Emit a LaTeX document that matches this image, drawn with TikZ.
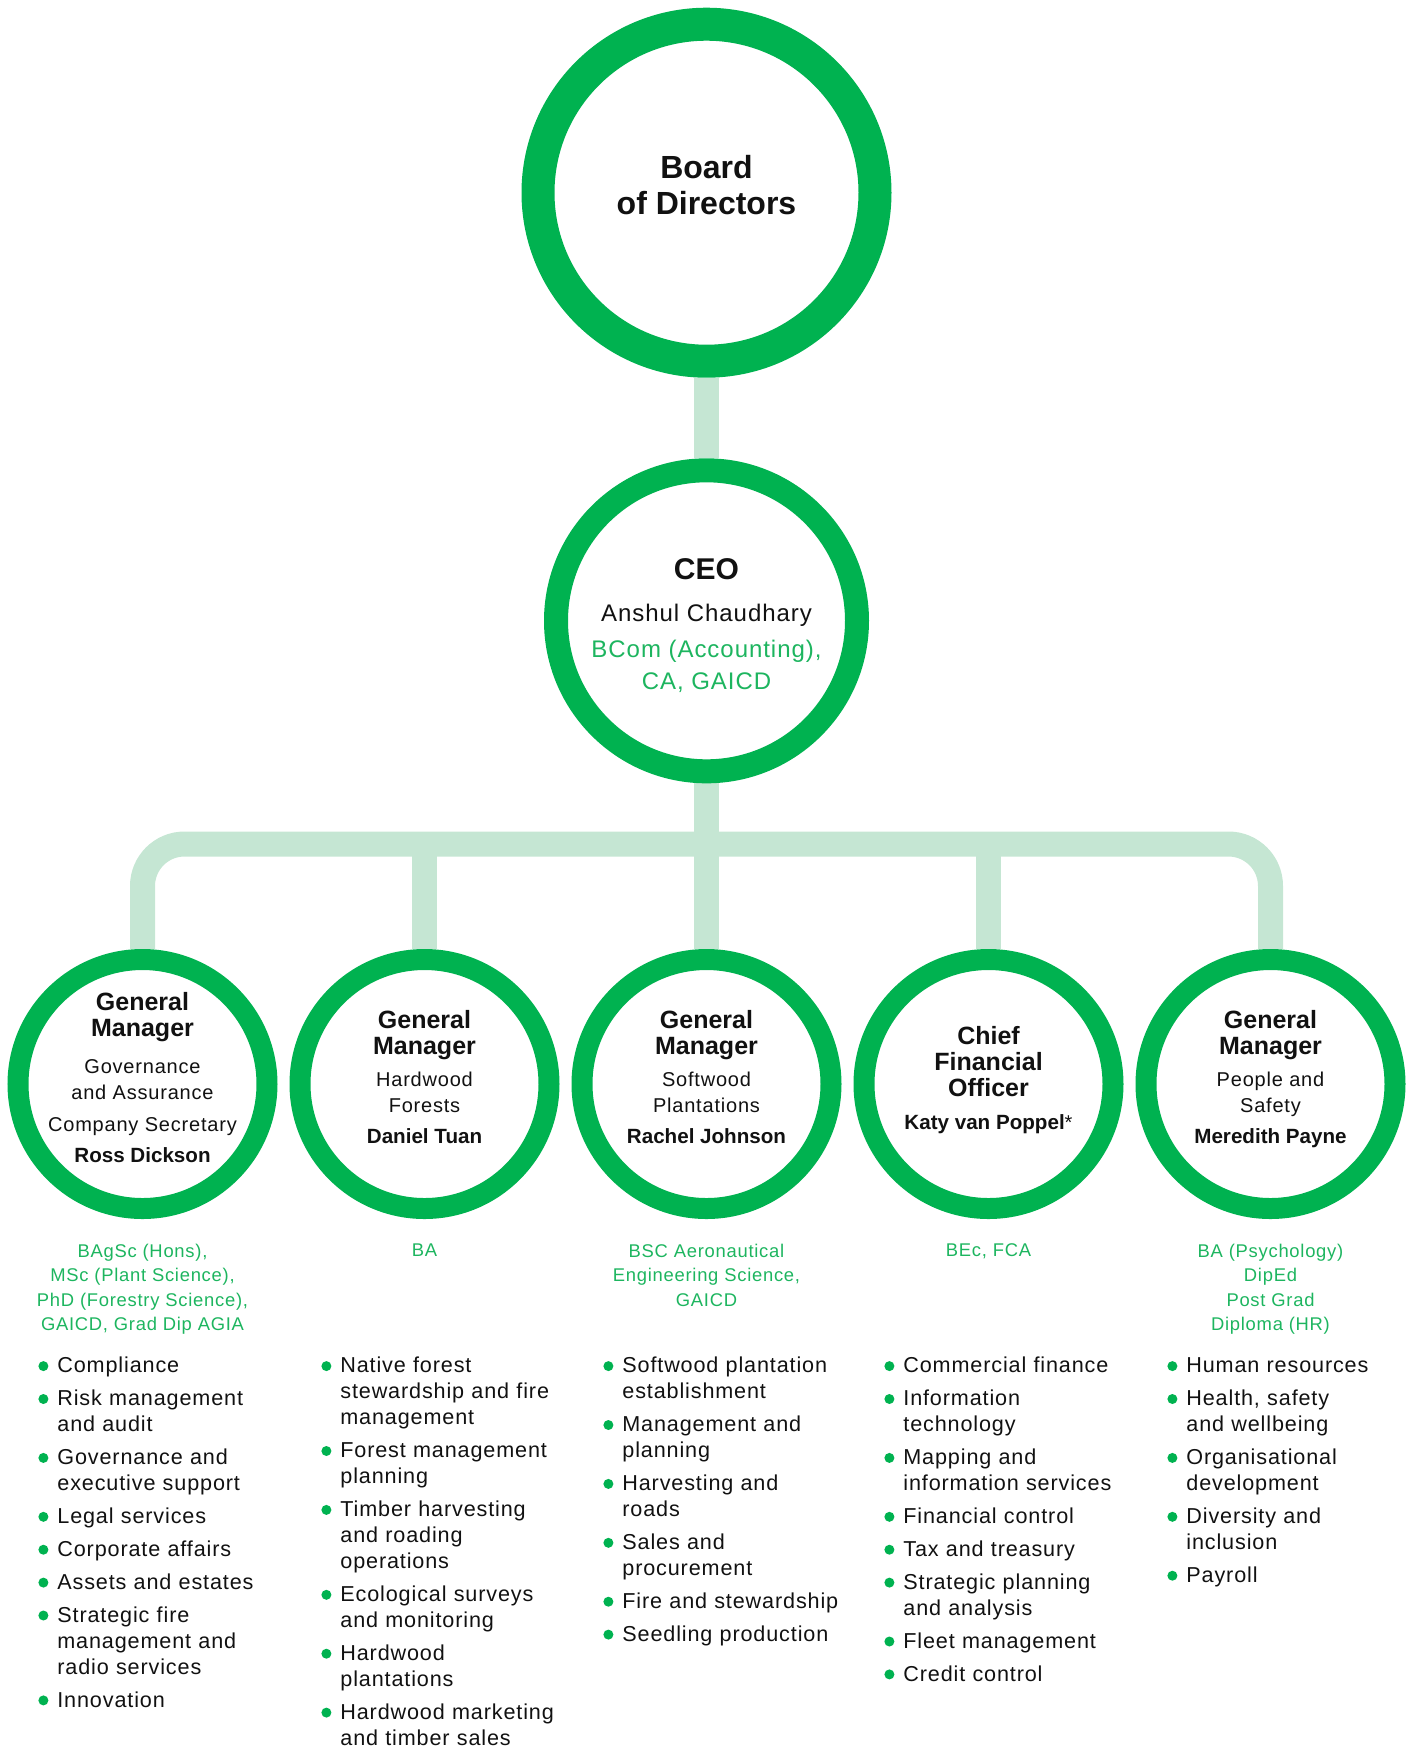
\documentclass[tikz,border=0pt]{standalone}
\usepackage{fontspec}
\setmainfont{Liberation Sans}[LetterSpace=4,BoldFeatures={LetterSpace=0}]
\usetikzlibrary{backgrounds}

\definecolor{ringgreen}{RGB}{0,178,80}
\definecolor{linkgreen}{RGB}{197,230,211}
\definecolor{qualgreen}{RGB}{29,181,95}
\definecolor{ink}{RGB}{17,17,17}

% title lines, names and list items
\newcommand\ttl[1]{{\fontsize{12.5pt}{13pt}\selectfont\bfseries #1}}
\newcommand\nm[1]{{\fontsize{10.3pt}{13pt}\selectfont\bfseries #1}}
\newcommand\itm{\par\leftskip=7pt\parskip=3.45pt\noindent\llap{\tikz[baseline=-3.4pt]\fill[ringgreen] (0,0) circle[radius=2.5pt];\hspace{4.5pt}}}

\tikzset{
  ring/.style={circle, draw=ringgreen, fill=white, inner sep=0pt},
  unit/.style={ring, minimum size=124.5pt, line width=10.5pt},
  link/.style={draw=linkgreen, line width=12.5pt},
  role/.style={align=center, text=ink, inner sep=0pt, font=\fontsize{10pt}{13pt}\selectfont},
  qual/.style={align=center, text=qualgreen, anchor=north, inner sep=0pt, font=\fontsize{9.2pt}{12.2pt}\selectfont},
  duties/.style={anchor=north west, text width=130pt, align=left, inner sep=0pt, text=ink, font=\fontsize{10.8pt}{13pt}\selectfont},
}

\begin{document}
\begin{tikzpicture}[x=0.5pt, y=-0.5pt]
\useasboundingbox (0,0) rectangle (1412,1753);

% board and CEO
\node[ring, minimum size=168.5pt, line width=16.5pt] (board) at (706.5,192.7) {};
\node[ring, minimum size=150.5pt, line width=12pt] (ceo) at (706.5,620.8) {};
\node[role, font=\fontsize{16pt}{18.35pt}\selectfont\bfseries, yshift=3.85pt] (board-txt) at (board) {Board\\of Directors};
\node[role, font=\fontsize{12pt}{16pt}\selectfont, yshift=-2.5pt] (ceo-txt) at (ceo) {{\fontsize{15pt}{16pt}\selectfont\bfseries CEO}\\[4.85pt]Anshul Chaudhary\\[2.15pt]\textcolor{qualgreen}{BCom (Accounting),}\\\textcolor{qualgreen}{CA, GAICD}};

% business units
\node[unit] (gov) at (142.5,1084) {};
\node[unit] (hard) at (424.5,1084) {};
\node[unit] (soft) at (706.5,1084) {};
\node[unit] (cfo) at (988.5,1084) {};
\node[unit] (people) at (1270.5,1084) {};

\node[role, yshift=3.1pt] (gov-txt) at (gov) {\ttl{General}\\\ttl{Manager}\\[5.2pt]Governance\\and Assurance\\[3.2pt]Company Secretary\\[2.5pt]\nm{Ross Dickson}};
\node[role, yshift=3.5pt] (hard-txt) at (hard) {\ttl{General}\\\ttl{Manager}\\[2.85pt]Hardwood\\Forests\\[2.65pt]\nm{Daniel Tuan}};
\node[role, yshift=3.5pt] (soft-txt) at (soft) {\ttl{General}\\\ttl{Manager}\\[2.85pt]Softwood\\Plantations\\[2.65pt]\nm{Rachel Johnson}};
\node[role, yshift=2pt] (cfo-txt) at (cfo) {\ttl{Chief}\\\ttl{Financial}\\\ttl{Officer}\\[3.65pt]\nm{Katy van Poppel}*};
\node[role, yshift=2.45pt] (people-txt) at (people) {\ttl{General}\\\ttl{Manager}\\[2.85pt]People and\\Safety\\[2.65pt]\nm{Meredith Payne}};

% reporting lines
\begin{scope}[on background layer]
\coordinate (bar) at (706.5,844);
\draw[link] (board) -- (ceo);
\draw[link] (ceo) -- (soft);
\draw[link, rounded corners=21pt] (gov) |- (bar) -| (people);
\draw[link] (hard) -- (hard |- bar);
\draw[link] (cfo) -- (cfo |- bar);
\end{scope}

% qualifications
\node[qual] (gov-q) at (142.5,1243.5) {BAgSc (Hons),\\MSc (Plant Science),\\PhD (Forestry Science),\\GAICD, Grad Dip AGIA};
\node[qual] (hard-q) at (424.5,1243.5) {BA};
\node[qual] (soft-q) at (706.5,1243.5) {BSC Aeronautical\\Engineering Science,\\GAICD};
\node[qual] (cfo-q) at (988.5,1243.5) {BEc, FCA};
\node[qual] (people-q) at (1270.5,1243.5) {BA (Psychology)\\DipEd\\Post Grad\\Diploma (HR)};

% responsibilities
\node[duties] (gov-d) at (43,1339.6) {\itm Compliance
  \itm Risk management\newline and audit
  \itm Governance and\newline executive support
  \itm Legal services
  \itm Corporate affairs
  \itm Assets and estates
  \itm Strategic fire\newline management and\newline radio services
  \itm Innovation\par};
\node[duties] (hard-d) at (326,1339.6) {\itm Native forest\newline stewardship and fire\newline management
  \itm Forest management\newline planning
  \itm Timber harvesting\newline and roading\newline operations
  \itm Ecological surveys\newline and monitoring
  \itm Hardwood\newline plantations
  \itm Hardwood marketing\newline and timber sales\par};
\node[duties] (soft-d) at (608,1339.6) {\itm Softwood plantation\newline establishment
  \itm Management and\newline planning
  \itm Harvesting and\newline roads
  \itm Sales and\newline procurement
  \itm Fire and stewardship
  \itm Seedling production\par};
\node[duties] (cfo-d) at (889,1339.6) {\itm Commercial finance
  \itm Information\newline technology
  \itm Mapping and\newline information services
  \itm Financial control
  \itm Tax and treasury
  \itm Strategic planning\newline and analysis
  \itm Fleet management
  \itm Credit control\par};
\node[duties] (people-d) at (1172,1339.6) {\itm Human resources
  \itm Health, safety\newline and wellbeing
  \itm Organisational\newline development
  \itm Diversity and\newline inclusion
  \itm Payroll\par};
\end{tikzpicture}
\end{document}
